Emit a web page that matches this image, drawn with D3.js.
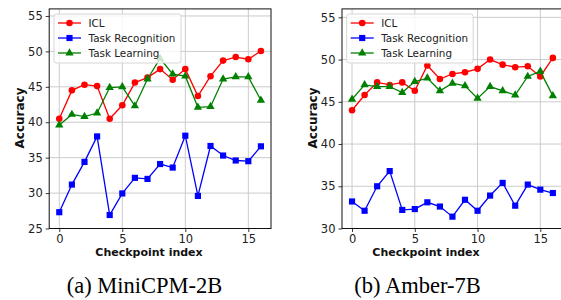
<!DOCTYPE html>
<html>
<head>
<meta charset="utf-8">
<script src="https://cdn.jsdelivr.net/npm/d3@7"></script>
<style>
  body { margin: 0; background: #fff; }
  svg { display: block; }
</style>
</head>
<body>
<script>
const width = 561;
const height = 300;

// checkpoint index on the x axis
const checkpoints = [0, 1, 2, 3, 4, 5, 6, 7, 8, 9, 10, 11, 12, 13, 14, 15, 16];
const xTicks = [0, 5, 10, 15];
const seriesNames = ["ICL", "Task Recognition", "Task Learning"];

// (a) MiniCPM-2B
const miniIcl = [40.5, 44.5, 45.3, 45.1, 40.5, 42.4, 45.6, 46.3, 47.5, 46.0, 47.5, 43.7, 46.5, 48.7, 49.2, 48.9, 50.05];
const miniRecog = [27.3, 31.2, 34.4, 38.0, 26.9, 29.95, 32.15, 32.0, 34.1, 33.6, 38.1, 29.6, 36.65, 35.3, 34.6, 34.5, 36.6];
const miniLearn = [39.6, 41.1, 40.8, 41.3, 44.9, 45.0, 42.3, 46.1, 49.0, 46.8, 46.5, 42.1, 42.2, 46.1, 46.4, 46.4, 43.1];
const miniYTicks = [25, 30, 35, 40, 45, 50, 55];

// (b) Amber-7B
const amberIcl = [44.0, 45.8, 47.3, 47.0, 47.3, 46.3, 49.3, 47.7, 48.3, 48.5, 48.9, 50.0, 49.4, 49.1, 49.2, 48.0, 50.2];
const amberRecog = [33.2, 32.1, 35.0, 36.8, 32.2, 32.3, 33.1, 32.6, 31.4, 33.4, 32.1, 33.9, 35.4, 32.7, 35.2, 34.6, 34.2];
const amberLearn = [45.3, 47.0, 46.8, 46.8, 46.1, 47.4, 47.8, 46.3, 47.2, 46.9, 45.4, 46.8, 46.3, 45.8, 48.0, 48.6, 45.7];
const amberYTicks = [30, 35, 40, 45, 50, 55];

const colors = ["#ff0000", "#0000ff", "#008000"];
const shapes = [d3.symbolCircle, d3.symbolSquare, d3.symbolTriangle];
const symSizes = [34, 38, 30];

const svg = d3.select("body").append("svg")
  .attr("width", width)
  .attr("height", height)
  .attr("font-family", "DejaVu Sans, sans-serif");

function panel(opt) {
  const x = d3.scaleLinear().domain([-0.8, 16.8]).range([opt.left, opt.right]);
  const y = d3.scaleLinear().domain(opt.yDomain).range([228.5, 8.9]);
  const g = svg.append("g");

  // grid
  g.append("g").selectAll("line").data(opt.yTicks).join("line")
    .attr("x1", opt.left).attr("x2", opt.right)
    .attr("y1", d => y(d)).attr("y2", d => y(d))
    .attr("stroke", "#cbcbcb").attr("stroke-width", 1);
  g.append("g").selectAll("line").data(xTicks).join("line")
    .attr("x1", d => x(d)).attr("x2", d => x(d))
    .attr("y1", y.range()[0]).attr("y2", y.range()[1])
    .attr("stroke", "#cbcbcb").attr("stroke-width", 1);

  // series
  opt.series.forEach((vals, i) => {
    const line = d3.line().x((d, j) => x(checkpoints[j])).y(d => y(d));
    g.append("path").datum(vals)
      .attr("d", line)
      .attr("fill", "none")
      .attr("stroke", colors[i])
      .attr("stroke-width", 1.3);
    g.append("g").selectAll("path").data(vals).join("path")
      .attr("transform", (d, j) => `translate(${x(checkpoints[j])},${y(d)})`)
      .attr("d", d3.symbol().type(shapes[i]).size(symSizes[i]))
      .attr("fill", colors[i]);
  });

  // axes
  const xAxis = g.append("g")
    .attr("transform", `translate(0,${y.range()[0]})`)
    .call(d3.axisBottom(x).tickValues(xTicks).tickSize(3.5).tickPadding(2.5));
  const yAxis = g.append("g")
    .attr("transform", `translate(${opt.left},0)`)
    .call(d3.axisLeft(y).tickValues(opt.yTicks).tickSize(3.5).tickPadding(3));
  [xAxis, yAxis].forEach(a => {
    a.select(".domain").remove();
    a.selectAll("text").attr("font-size", 11.5).attr("fill", "#222").attr("font-family", "DejaVu Sans, sans-serif");
    a.selectAll("line").attr("stroke", "#222").attr("stroke-width", 0.9);
  });

  // frame
  g.append("rect")
    .attr("x", opt.left).attr("y", y.range()[1])
    .attr("width", opt.right - opt.left)
    .attr("height", y.range()[0] - y.range()[1])
    .attr("fill", "none").attr("stroke", "#111").attr("stroke-width", 1);

  // legend
  const lg = g.append("g").attr("transform", `translate(${opt.legendX},14)`);
  lg.append("rect")
    .attr("width", opt.legendW).attr("height", 49)
    .attr("rx", 2.5)
    .attr("fill", "rgba(255,255,255,0.8)")
    .attr("stroke", "#d6d6d6").attr("stroke-width", 1);
  seriesNames.forEach((name, i) => {
    const yy = 9 + i * 15;
    lg.append("line").attr("x1", 4).attr("x2", 27).attr("y1", yy).attr("y2", yy)
      .attr("stroke", colors[i]).attr("stroke-width", 1.3);
    lg.append("path").attr("transform", `translate(15.5,${yy})`)
      .attr("d", d3.symbol().type(shapes[i]).size(symSizes[i]))
      .attr("fill", colors[i]);
    lg.append("text").attr("x", 34.5).attr("y", yy + 3.8)
      .attr("font-size", 10.4).attr("fill", "#222").text(name);
  });

  // axis titles
  g.append("text")
    .attr("transform", `translate(${opt.ylabelX},118) rotate(-90)`)
    .attr("text-anchor", "middle").attr("dy", "0.35em")
    .attr("font-weight", "bold").attr("font-size", 12).attr("fill", "#111")
    .text("Accuracy");
  g.append("text")
    .attr("x", opt.xlabelX).attr("y", 255.5)
    .attr("text-anchor", "middle")
    .attr("font-weight", "bold").attr("font-size", 11).attr("fill", "#111")
    .text("Checkpoint index");

  // caption
  g.append("text")
    .attr("x", opt.captionX).attr("y", 293)
    .attr("text-anchor", "middle")
    .attr("font-family", "Liberation Serif, Times New Roman, serif")
    .attr("font-size", 22.5).attr("fill", "#000")
    .text(opt.caption);
}

panel({
  left: 49.2, right: 271, yDomain: [25, 56], yTicks: miniYTicks,
  series: [miniIcl, miniRecog, miniLearn],
  legendX: 54, legendW: 127, ylabelX: 20, xlabelX: 149, captionX: 144.5,
  caption: "(a) MiniCPM-2B"
});

panel({
  left: 342, right: 562.9, yDomain: [30, 56], yTicks: amberYTicks,
  series: [amberIcl, amberRecog, amberLearn],
  legendX: 346.7, legendW: 126.5, ylabelX: 313, xlabelX: 426, captionX: 417.5,
  caption: "(b) Amber-7B"
});
</script>
</body>
</html>
